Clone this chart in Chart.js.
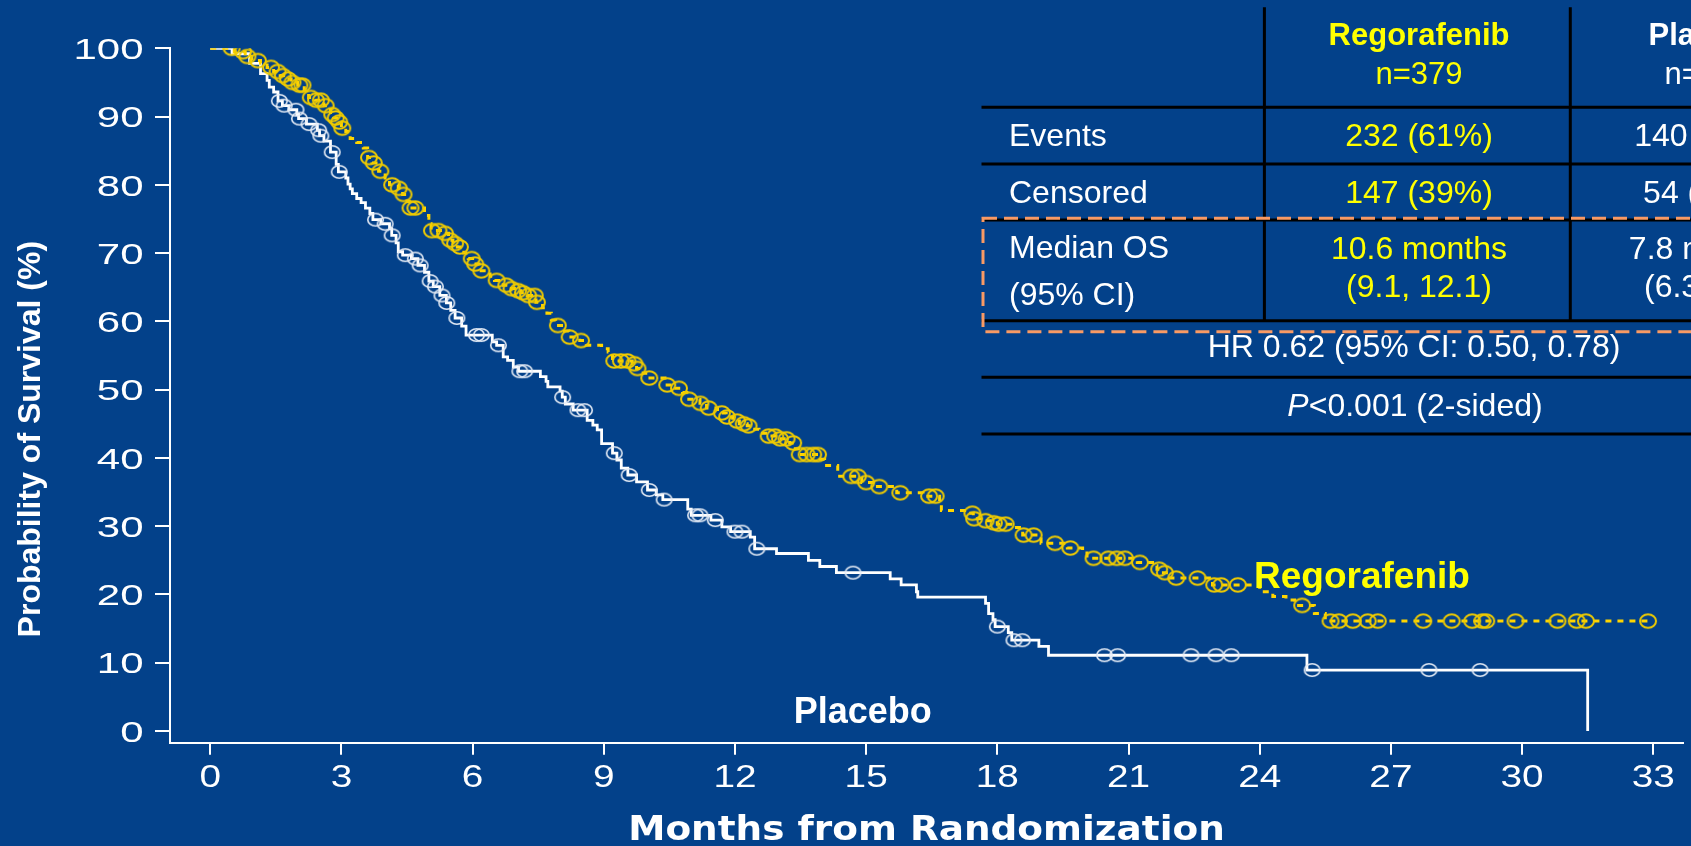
<!DOCTYPE html>
<html>
<head>
<meta charset="utf-8">
<title>Overall survival – Regorafenib vs Placebo</title>
<script src="https://cdn.jsdelivr.net/npm/chart.js@4.4.1/dist/chart.umd.min.js"></script>
<style>
  html, body { margin: 0; padding: 0; background: #03418A; overflow: hidden; }
  #wrap { position: relative; width: 1691px; height: 846px; }
  canvas { display: block; }
</style>
</head>
<body>
<div id="wrap"><canvas id="km" width="1691" height="846"></canvas></div>
<script>
// ---- Kaplan–Meier data (months, % surviving after each event) ----
const regoEventTimes = [0.55, 0.8, 0.95, 1.15, 1.3, 1.45, 1.6, 1.75, 1.85, 2.0,
  2.15, 2.25, 2.4, 2.6, 2.75, 2.82, 2.9, 3.0, 3.1, 3.2,
  3.35, 3.5, 3.6, 3.7, 3.85, 4.0, 4.1, 4.3, 4.4, 4.5,
  4.55, 4.9, 5.0, 5.05, 5.3, 5.45, 5.55, 5.65, 5.8, 5.9,
  6.0, 6.15, 6.4, 6.5, 6.7, 6.85, 7.0, 7.1, 7.25, 7.45,
  7.6, 7.7, 7.8, 7.9, 8.1, 8.2, 8.45, 8.6, 8.95, 9.1,
  9.2, 9.65, 9.75, 9.9, 10.0, 10.4, 10.6, 10.8, 10.9, 11.2,
  11.35, 11.6, 11.8, 11.95, 12.1, 12.28, 12.4, 12.55, 12.75, 13.0,
  13.25, 13.38, 13.45, 13.95, 14.05, 14.35, 14.9, 15.2, 15.7, 16.3,
  16.68, 16.72, 17.35, 17.45, 17.7, 17.9, 18.0, 18.35, 18.58, 19.0,
  19.6, 19.95, 20.05, 21.2, 21.55, 21.65, 21.75, 21.95, 22.85, 22.92,
  24.0, 24.3, 24.6, 24.8, 25.25, 25.5];
const regoSurvival = [99.5, 98.8, 98.2, 97.8, 97.2, 96.6, 96.0, 95.5, 95.0, 94.6,
  93.9, 92.8, 92.4, 91.6, 90.3, 89.8, 89.2, 88.3, 87.8, 86.8,
  86.2, 85.4, 84.0, 83.2, 82.0, 81.0, 80.0, 79.5, 78.6, 77.6,
  76.6, 75.5, 74.3, 73.3, 72.9, 71.9, 71.4, 70.9, 70.0, 69.2,
  68.4, 67.4, 66.6, 66.0, 65.3, 64.8, 64.5, 64.2, 63.8, 62.8,
  62.0, 61.2, 60.2, 59.4, 58.6, 57.7, 57.2, 56.5, 56.0, 55.5,
  54.2, 53.8, 53.1, 52.4, 51.7, 50.7, 50.2, 49.6, 48.6, 48.0,
  47.3, 46.6, 46.0, 45.4, 45.0, 44.7, 44.2, 43.6, 43.2, 42.8,
  42.2, 41.3, 40.5, 39.8, 38.9, 37.3, 36.4, 35.8, 34.9, 34.4,
  33.3, 32.3, 31.9, 31.1, 30.8, 30.5, 30.3, 29.8, 28.7, 27.5,
  26.8, 26.4, 25.3, 24.7, 24.2, 23.7, 23.2, 22.4, 21.9, 21.4,
  20.4, 19.7, 19.2, 18.4, 17.2, 16.1];
const regoCensorTimes = [0.49, 0.75, 0.85, 1.09, 1.39, 1.54, 1.66, 1.78, 1.88, 2.04,
  2.11, 2.3, 2.42, 2.53, 2.64, 2.79, 2.87, 2.95, 3.02, 3.63,
  3.74, 3.89, 4.16, 4.31, 4.42, 4.58, 4.69, 5.07, 5.22, 5.37,
  5.49, 5.6, 5.71, 5.98, 6.06, 6.2, 6.55, 6.77, 6.89, 7.04,
  7.15, 7.27, 7.42, 7.47, 7.95, 8.22, 8.48, 9.24, 9.39, 9.54,
  9.7, 9.77, 10.04, 10.45, 10.72, 10.95, 11.21, 11.4, 11.7, 11.82,
  12.05, 12.2, 12.31, 12.77, 12.92, 13.03, 13.18, 13.33, 13.48, 13.64,
  13.79, 13.9, 14.66, 14.81, 15.0, 15.3, 15.78, 16.44, 16.59, 17.43,
  17.47, 17.73, 17.92, 18.03, 18.19, 18.6, 18.83, 19.32, 19.67, 20.2,
  20.54, 20.73, 20.92, 21.26, 21.7, 21.83, 22.09, 22.58, 22.96, 23.12,
  23.5, 24.97, 25.62, 25.81, 26.13, 26.47, 26.7, 27.74, 28.39, 28.86,
  29.09, 29.18, 29.85, 30.81, 31.25, 31.46, 32.88];

const placeboEventTimes = [0.5, 0.9, 1.15, 1.3, 1.35, 1.45, 1.55, 1.65, 1.8, 1.98,
  2.02, 2.2, 2.45, 2.5, 2.6, 2.75, 2.88, 2.93, 3.1, 3.15,
  3.2, 3.25, 3.35, 3.45, 3.55, 3.65, 3.72, 3.9, 4.1, 4.15,
  4.25, 4.3, 4.4, 4.6, 4.75, 4.9, 5.0, 5.1, 5.25, 5.4,
  5.5, 5.6, 5.75, 5.85, 6.45, 6.55, 6.7, 6.8, 6.93, 7.05,
  7.55, 7.68, 7.72, 8.0, 8.05, 8.12, 8.3, 8.62, 8.75, 8.85,
  8.95, 9.2, 9.3, 9.4, 9.55, 9.75, 10.0, 10.2, 10.35, 10.92,
  11.0, 11.45, 11.7, 11.9, 12.35, 12.45, 12.95, 13.68, 13.94, 14.32,
  15.55, 15.8, 16.15, 16.18, 17.73, 17.8, 17.9, 17.95, 18.25, 18.33,
  18.95, 19.17, 25.08, 31.5];
const placeboSurvival = [99.2, 97.8, 96.3, 95.3, 94.3, 93.6, 92.3, 91.6, 91.0, 90.3,
  89.7, 88.9, 88.0, 87.2, 86.4, 84.8, 83.0, 81.9, 81.0, 80.1,
  79.4, 78.7, 78.0, 77.4, 76.6, 75.8, 74.9, 74.3, 73.6, 72.6,
  71.5, 70.2, 69.7, 69.2, 68.2, 67.2, 65.9, 65.1, 63.8, 62.7,
  61.6, 60.5, 59.3, 58.0, 57.0, 56.5, 54.8, 54.3, 53.3, 52.7,
  51.9, 51.2, 50.4, 49.8, 48.9, 47.9, 47.0, 45.5, 44.8, 44.1,
  42.1, 40.7, 39.7, 38.5, 37.5, 36.5, 35.3, 34.6, 33.9, 32.5,
  31.6, 30.9, 29.9, 29.2, 28.4, 26.7, 26.0, 25.0, 24.1, 23.2,
  22.3, 21.4, 20.4, 19.6, 18.7, 17.2, 16.3, 15.3, 14.4, 13.3,
  12.4, 11.1, 8.93, 0];
const placeboCensorTimes = [1.58, 1.69, 1.96, 2.04, 2.26, 2.48, 2.53, 2.79, 2.95, 3.78,
  4.0, 4.16, 4.46, 4.69, 4.8, 5.03, 5.15, 5.3, 5.41, 5.64,
  6.09, 6.2, 6.59, 7.08, 7.19, 8.06, 8.41, 8.56, 9.24, 9.58,
  10.04, 10.38, 11.1, 11.2, 11.55, 12.0, 12.16, 12.5, 14.7, 18.0,
  18.38, 18.57, 20.45, 20.75, 22.43, 23.0, 23.35, 25.2, 27.87, 29.04];

// ---- axes ----
const monthTicks = [0, 3, 6, 9, 12, 15, 18, 21, 24, 27, 30, 33];
const survivalTicks = [0, 10, 20, 30, 40, 50, 60, 70, 80, 90, 100];
const xAxisTitle = 'Months from Randomization';
const yAxisTitle = 'Probability of Survival (%)';
const curveNames = ['Regorafenib', 'Placebo'];

// ---- summary table ----
const tableHeads = ['Regorafenib', 'Placebo'];
const tableN = ['n=379', 'n=194'];
const tableRowLabels = ['Events', 'Censored', 'Median OS', '(95% CI)'];
const eventsCol = ['232 (61%)', '140 (72%)'];
const censoredCol = ['147 (39%)', '54 (28%)'];
const medianCol = ['10.6 months', '7.8 months'];
const medianCiCol = ['(9.1, 12.1)', '(6.3, 8.8)'];
const hazardText = 'HR 0.62 (95% CI: 0.50, 0.78)';
const pValueText = ['P', '<0.001 (2-sided)'];

// survival value of a step curve at time t
function survivalAt(times, surv, t) {
  let s = 100;
  for (let i = 0; i < times.length; i++) { if (times[i] <= t) s = surv[i]; else break; }
  return s;
}
function stepPoints(times, surv, endTime) {
  const pts = [{ x: 0, y: 100 }];
  times.forEach((t, i) => pts.push({ x: t, y: surv[i] }));
  if (endTime !== undefined) pts.push({ x: endTime, y: surv[surv.length - 1] });
  return pts;
}
function censorPoints(censorTimes, times, surv) {
  return censorTimes.map(t => ({ x: t, y: survivalAt(times, surv, t) }));
}
// open elliptical mark used for censored observations
function ring(color, w, h, lw) {
  const c = document.createElement('canvas');
  c.width = Math.ceil(w + lw * 2 + 2); c.height = Math.ceil(h + lw * 2 + 2);
  const g = c.getContext('2d');
  g.strokeStyle = color; g.lineWidth = lw;
  g.beginPath(); g.ellipse(c.width / 2, c.height / 2, w / 2, h / 2, 0, 0, Math.PI * 2); g.stroke();
  return c;
}

const YELLOW_LINE = '#FFD500';
const YELLOW_RING = '#EFCB00';
const WHITE_RING = '#E6ECF6';

const regoLine = stepPoints(regoEventTimes, regoSurvival, regoCensorTimes[regoCensorTimes.length - 1]);
const placeboLine = stepPoints(placeboEventTimes, placeboSurvival);
const regoCens = censorPoints(regoCensorTimes, regoEventTimes, regoSurvival);
const placeboCens = censorPoints(placeboCensorTimes, placeboEventTimes, placeboSurvival);

const SANS = '"Liberation Sans", Arial, Helvetica, sans-serif';
const WIDE = '"DejaVu Sans", Verdana, sans-serif';

// draws text horizontally widened by factor sx, anchored at (x, y)
function wideText(ctx, text, x, y, sx) {
  ctx.save();
  ctx.translate(x, y);
  ctx.scale(sx, 1);
  ctx.fillText(text, 0, 0);
  ctx.restore();
}

const textPlugin = {
  id: 'kmText',
  afterDraw(chart) {
    const { ctx, scales: { x, y }, chartArea } = chart;
    ctx.save();
    ctx.fillStyle = '#FFFFFF';

    // tick labels, placed from the scales' own ticks
    ctx.textBaseline = 'alphabetic';
    ctx.font = '30px ' + SANS;
    ctx.textAlign = 'right';
    const yLabelRight = chartArea.left - y.options.grid.tickLength - 11.5;
    y.ticks.forEach(t => wideText(ctx, String(t.value), yLabelRight, y.getPixelForValue(t.value) + 10.7, 1.4));
    ctx.font = '31px ' + SANS;
    ctx.textAlign = 'center';
    const xLabelBase = chartArea.bottom + x.options.grid.tickLength + 32;
    x.ticks.forEach(t => wideText(ctx, String(t.value), x.getPixelForValue(t.value), xLabelBase, 1.25));

    // axis titles
    ctx.save();
    ctx.font = 'bold 32px ' + SANS;
    ctx.translate(40, y.getPixelForValue(42.75));
    ctx.rotate(-Math.PI / 2);
    ctx.fillText(yAxisTitle, 0, 0);
    ctx.restore();

    ctx.font = 'bold 34px ' + WIDE;
    wideText(ctx, xAxisTitle, (chartArea.left + chartArea.right) / 2, 840, 1.1);

    // curve labels
    ctx.font = 'bold 36px ' + SANS;
    ctx.textAlign = 'center';
    ctx.fillText(curveNames[1], x.getPixelForValue(14.92), y.getPixelForValue(1.13));
    ctx.font = 'bold 37px ' + SANS;
    ctx.textAlign = 'left';
    ctx.fillStyle = '#FFFF00';
    ctx.fillText(curveNames[0], x.getPixelForValue(23.87), y.getPixelForValue(20.9));

    // summary table rules
    ctx.strokeStyle = '#000000';
    ctx.lineWidth = 3;
    ctx.beginPath();
    [107.3, 164, 220, 320.7, 377.3, 434].forEach(yy => { ctx.moveTo(981.5, yy); ctx.lineTo(1691, yy); });
    [1264.4, 1570.3].forEach(xx => { ctx.moveTo(xx, 7.3); ctx.lineTo(xx, 320.7); });
    ctx.stroke();

    ctx.save();
    ctx.setLineDash([14, 7]);
    ctx.strokeStyle = '#F99A64';
    ctx.lineWidth = 3;
    ctx.strokeRect(983, 218.3, 760, 113.4);
    ctx.restore();

    // table text
    const colX = [1419, 1708];
    const colColor = ['#FFFF00', '#FFFFFF'];
    ctx.textAlign = 'center';
    for (let c = 0; c < 2; c++) {
      ctx.fillStyle = colColor[c];
      ctx.font = 'bold 31px ' + SANS;
      ctx.fillText(tableHeads[c], colX[c], 45);
      ctx.font = '31px ' + SANS;
      ctx.fillText(tableN[c], colX[c], 84);
      ctx.font = '32px ' + SANS;
      ctx.fillText(eventsCol[c], colX[c], 146.3);
      ctx.fillText(censoredCol[c], colX[c], 203);
      ctx.fillText(medianCol[c], colX[c], 258.7);
      ctx.fillText(medianCiCol[c], colX[c], 296.7);
    }
    ctx.fillStyle = '#FFFFFF';
    ctx.textAlign = 'left';
    ctx.font = '32px ' + SANS;
    const rowBase = [146, 202.7, 258.3, 305];
    tableRowLabels.forEach((t, i) => ctx.fillText(t, 1009, rowBase[i]));

    ctx.textAlign = 'center';
    ctx.fillText(hazardText, 1414, 357);

    ctx.textAlign = 'left';
    ctx.font = 'italic 32px ' + SANS;
    const wP = ctx.measureText(pValueText[0]).width;
    ctx.font = '32px ' + SANS;
    const wRest = ctx.measureText(pValueText[1]).width;
    const px0 = 1415 - (wP + wRest) / 2;
    ctx.font = 'italic 32px ' + SANS;
    ctx.fillText(pValueText[0], px0, 416);
    ctx.font = '32px ' + SANS;
    ctx.fillText(pValueText[1], px0 + wP, 416);

    ctx.restore();
  }
};

new Chart(document.getElementById('km'), {
  type: 'scatter',
  data: {
    datasets: [
      { label: 'Regorafenib censored', data: regoCens, showLine: false,
        pointStyle: ring(YELLOW_RING, 16, 13.5, 2), pointRadius: 7, order: 0 },
      { label: 'Regorafenib', data: regoLine, showLine: true, stepped: true,
        borderColor: YELLOW_LINE, borderWidth: 3, borderDash: [6, 6], pointRadius: 0, order: 1 },
      { label: 'Placebo censored', data: placeboCens, showLine: false,
        pointStyle: ring(WHITE_RING, 15.5, 12.5, 1.6), pointRadius: 7, order: 2 },
      { label: 'Placebo', data: placeboLine, showLine: true, stepped: true,
        borderColor: '#FFFFFF', borderWidth: 2.8, pointRadius: 0, order: 3 }
    ]
  },
  options: {
    responsive: false,
    animation: false,
    devicePixelRatio: 1,
    events: [],
    layout: { padding: { top: 48.3, right: 0, bottom: 0, left: 0 } },
    plugins: { legend: { display: false }, tooltip: { enabled: false } },
    scales: {
      x: {
        type: 'linear', min: -0.92, max: 33.68,
        afterBuildTicks: s => { s.ticks = monthTicks.map(v => ({ value: v })); },
        afterFit: s => { s.height = 103.3; },
        border: { display: true, color: '#FFFFFF', width: 2 },
        grid: { drawOnChartArea: false, drawTicks: true, tickLength: 12, color: '#FFFFFF', lineWidth: 2 },
        ticks: { display: false }
      },
      y: {
        type: 'linear', min: -1.71, max: 100,
        afterBuildTicks: s => { s.ticks = survivalTicks.map(v => ({ value: v })); },
        afterFit: s => { s.width = 170; },
        border: { display: true, color: '#FFFFFF', width: 2 },
        grid: { drawOnChartArea: false, drawTicks: true, tickLength: 15, color: '#FFFFFF', lineWidth: 2 },
        ticks: { display: false }
      }
    }
  },
  plugins: [textPlugin]
});
</script>
</body>
</html>
